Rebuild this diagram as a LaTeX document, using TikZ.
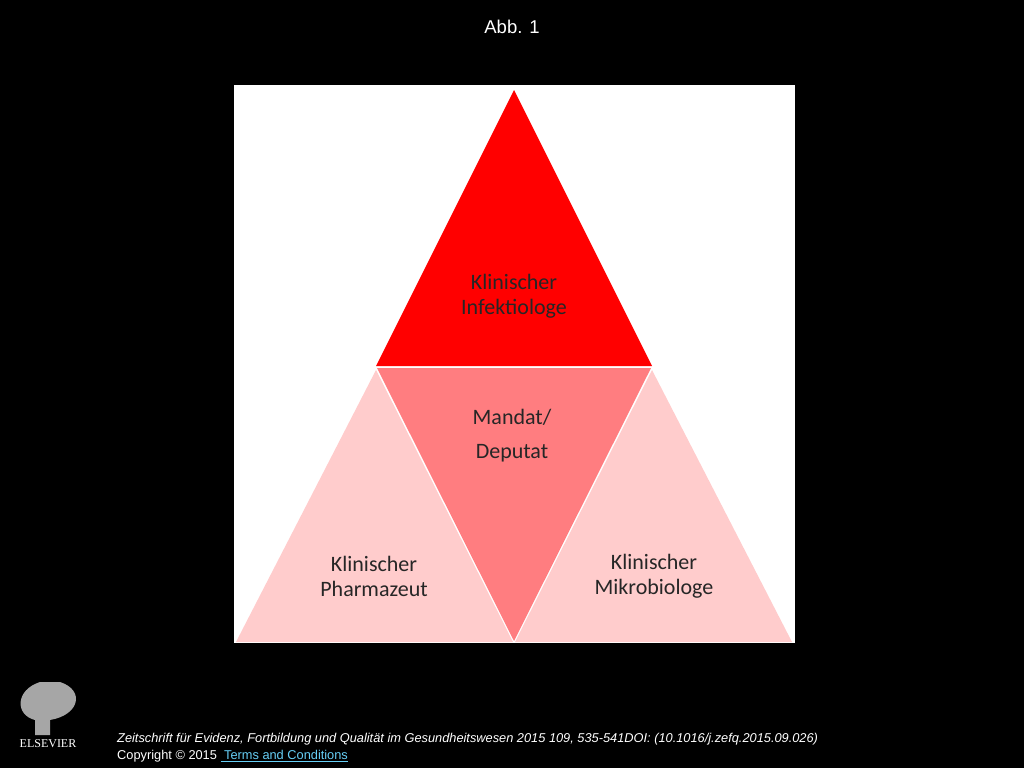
\documentclass[tikz,border=0pt]{standalone}
\usepackage{fontspec}
\setmainfont{Liberation Sans}
\newfontfamily\calfont{Carlito}
\newfontfamily\serifl{Liberation Serif}
\begin{document}
\begin{tikzpicture}[x=1pt,y=-1pt,
  lbl/.style={font=\calfont\fontsize{22}{25}\selectfont,align=center,text=black!85},
  foot/.style={font=\fontsize{12.8}{15}\selectfont,text=white,anchor=west,inner sep=0}]
\fill[black] (0,0) rectangle (1024,768);
\useasboundingbox (0,0) rectangle (1024,768);
\node[text=white,font=\fontsize{18.5}{22}\selectfont] (title) at (512,27) {Abb. 1};
\fill[white] (234,85) rectangle (795,643);
\fill[fill={rgb,255:red,255;green,0;blue,0}] (514,90) -- (652,366) -- (376,366) -- cycle;
\fill[fill={rgb,255:red,255;green,125;blue,128}] (377,368) -- (651,368) -- (514,641) -- cycle;
\fill[fill={rgb,255:red,255;green,204;blue,204}] (376,370) -- (513,642) -- (236,642) -- cycle;
\fill[fill={rgb,255:red,255;green,204;blue,204}] (652,370) -- (792,642) -- (515,642) -- cycle;
\node[lbl] (t1) at (514,296) {Klinischer\\Infektiologe};
\node[lbl] (t2) at (512,436) {Mandat/\\[9pt]Deputat};
\node[lbl] (t3) at (374,576) {Klinischer\\Pharmazeut};
\node[lbl] (t4) at (654,576) {Klinischer\\Mikrobiologe};
\fill[gray!70] (40,682) .. controls (15,690) and (15,715) .. (35,720) -- (35,735) -- (50,735) -- (50,720) .. controls (80,715) and (85,690) .. (60,682) -- cycle;
\node[text=white,font=\serifl\fontsize{12}{14}\selectfont,inner sep=0] (logo) at (48,744) {ELSEVIER};
\node[foot,font=\itshape\fontsize{12.8}{15}\selectfont] (f1) at (117,739) {Zeitschrift für Evidenz, Fortbildung und Qualität im Gesundheitswesen 2015 109, 535-541DOI: (10.1016/j.zefq.2015.09.026)};
\node[foot] (f2) at (117,756) {Copyright © 2015 \textcolor{cyan!60!white}{\underline{ Terms and Conditions}}};
\end{tikzpicture}
\end{document}
